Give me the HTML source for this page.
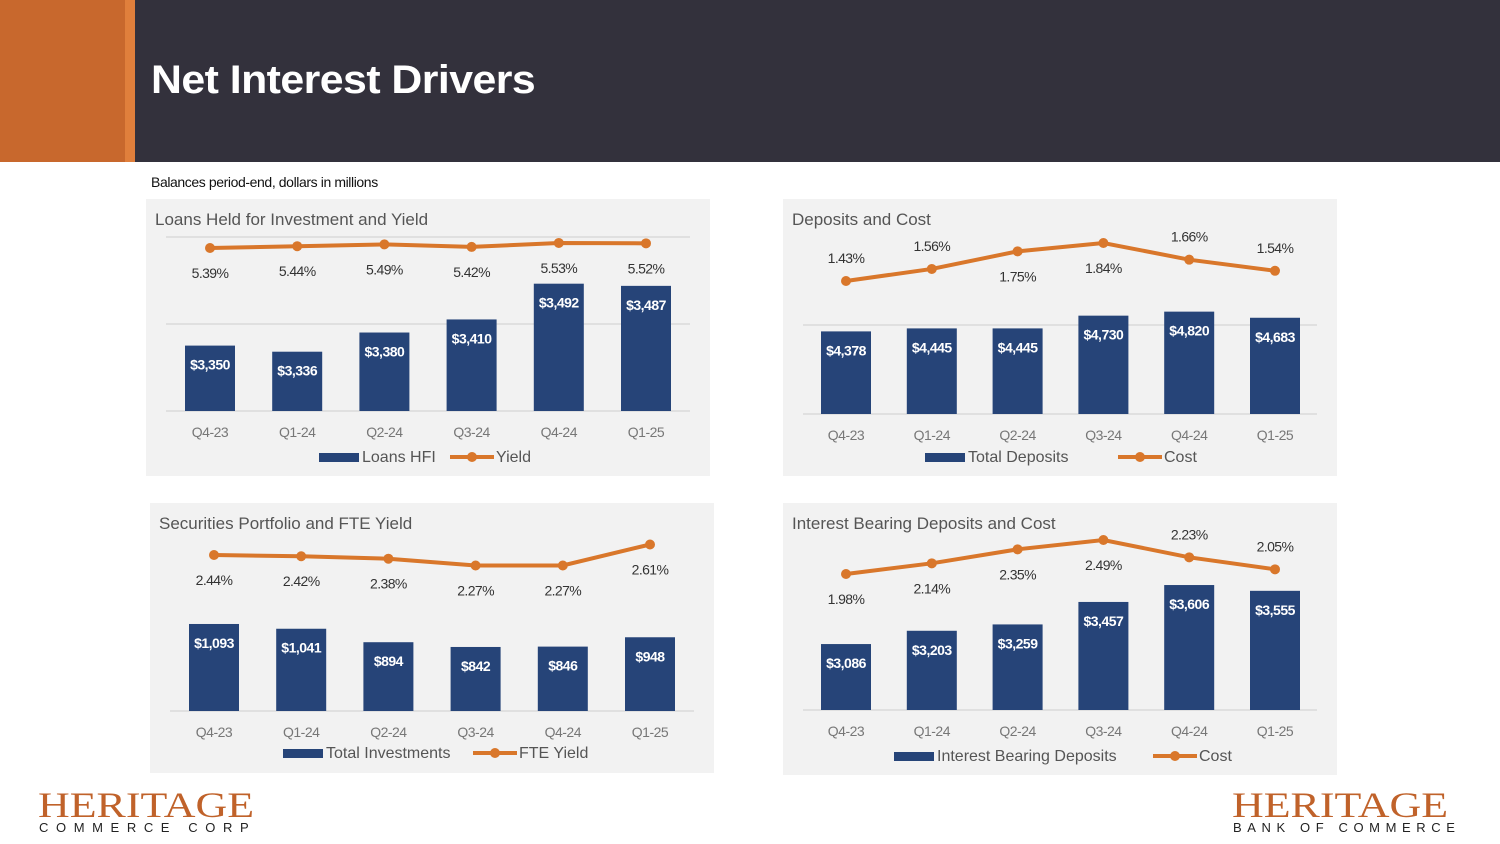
<!DOCTYPE html>
<html><head><meta charset="utf-8">
<style>
body{margin:0;width:1500px;height:844px;background:#fff;position:relative;overflow:hidden;font-family:"Liberation Sans",sans-serif}
.hdr{position:absolute;left:0;top:0;width:1500px;height:162px;background:#33313c}
.org{position:absolute;left:0;top:0;width:125px;height:162px;background:#c8682d}
.org2{position:absolute;left:125px;top:0;width:10px;height:162px;background:#e07f3c}
h1{position:absolute;left:151px;top:58px;margin:0;color:#fff;font-size:40px;font-weight:bold;letter-spacing:-0.5px;transform:scaleX(1.07);transform-origin:left top}
.sub{position:absolute;left:151px;top:174px;font-size:14px;color:#111;letter-spacing:-0.4px}
svg{position:absolute;left:0;top:0}
.logo{position:absolute;font-family:"Liberation Serif",serif;color:#c0622a;font-size:36px;line-height:30px;transform:scaleX(1.22);transform-origin:left top}
.tag{position:absolute;font-size:13px;letter-spacing:7.6px;color:#222}
</style></head><body>
<div class="hdr"></div>
<div class="org"></div>
<div class="org2"></div>
<h1>Net Interest Drivers</h1>
<div class="sub">Balances period-end, dollars in millions</div>
<svg id="chart" width="1500" height="844"></svg>
<div class="logo" style="left:38px;top:790px">HERITAGE</div>
<div class="tag" style="left:39px;top:820px">COMMERCE CORP</div>
<div class="logo" style="left:1232px;top:790px">HERITAGE</div>
<div class="tag" style="left:1233px;top:820px;letter-spacing:5.6px">BANK OF COMMERCE</div>
<script>
const quarters=["Q4-23","Q1-24","Q2-24","Q3-24","Q4-24","Q1-25"];
const loansBars=[3350,3336,3380,3410,3492,3487];
const loansYield=[5.39,5.44,5.49,5.42,5.53,5.52];
const loansLabelPos=["below","below","below","below","below","below"];
const depBars=[4378,4445,4445,4730,4820,4683];
const depCost=[1.43,1.56,1.75,1.84,1.66,1.54];
const depLabelPos=["above","above","below","below","above","above"];
const secBars=[1093,1041,894,842,846,948];
const secYield=[2.44,2.42,2.38,2.27,2.27,2.61];
const secLabelPos=["below","below","below","below","below","below"];
const ibBars=[3086,3203,3259,3457,3606,3555];
const ibCost=[1.98,2.14,2.35,2.49,2.23,2.05];
const ibLabelPos=["below","below","below","below","above","above"];

const svg=document.getElementById('chart');
const NS='http://www.w3.org/2000/svg';
function el(t,a,p){const e=document.createElementNS(NS,t);for(const k in a)e.setAttribute(k,a[k]);(p||svg).appendChild(e);return e;}
function txt(x,y,s,a,p){const e=el('text',Object.assign({x:x,y:y,'font-family':'Liberation Sans, sans-serif'},a),p);e.textContent=s;return e;}
const BLUE='#264478',ORANGE='#d9772b';

function chart(c){
  const g=el('g',{});
  
  
  const bg=el('rect',{x:c.px,y:c.py,width:c.pw,height:c.ph,fill:'#f2f2f2'},g);
  
  
  const t=txt(c.px+9,c.py+26,c.title,{'font-size':17,fill:'#555'},g);
  
  
  const yB=v=>c.base-(v-c.bMin)*c.bScale;
  const yL=v=>c.lRef-(v-c.lMin)*c.lScale;
  const xC=i=>c.x0+i*c.step;
  c.grids.forEach(gy=>{const l=el('line',{x1:c.gx1,x2:c.gx2,y1:gy,y2:gy,stroke:'#d9d9d9','stroke-width':1.5},g);
    });
  c.bars.forEach((v,i)=>{
    const top=yB(v);
    const r=el('rect',{x:xC(i)-25,y:top,width:50,height:c.base-top,fill:BLUE},g);
    
    
    const lb=txt(xC(i),top+24,'$'+v.toLocaleString('en-US'),{'font-size':14,fill:'#fff','text-anchor':'middle','font-weight':'bold','letter-spacing':'-0.5'},g);
    
    
    const q=txt(xC(i),c.base+26,quarters[i],{'font-size':14,fill:'#777','text-anchor':'middle','letter-spacing':'-0.5'},g);
    
    
  });
  const pts=c.line.map((v,i)=>xC(i)+','+yL(v)).join(' ');
  const pl=el('polyline',{points:pts,fill:'none',stroke:ORANGE,'stroke-width':4},g);
  
  
  c.line.forEach((v,i)=>{
    const d=el('circle',{cx:xC(i),cy:yL(v),r:5,fill:ORANGE},g);
    
    
    const ly=c.pos[i]=='above'?yL(v)-18:yL(v)+30;
    const lt=txt(xC(i),ly,v.toFixed(2)+'%',{'font-size':14,fill:'#333','text-anchor':'middle','letter-spacing':'-0.6'},g);
    
    
  });
  const lx=c.legX,ly=c.legY;
  const sw=el('rect',{x:lx,y:ly-9,width:40,height:9,fill:BLUE},g);
  
  
  const t1=txt(lx+43,ly,c.leg1,{'font-size':16,fill:'#555'},g);
  
  
  const x2=lx+43+c.leg1W;
  const ll=el('line',{x1:x2,x2:x2+44,y1:ly-5,y2:ly-5,stroke:ORANGE,'stroke-width':4},g);
  
  
  const lc=el('circle',{cx:x2+22,cy:ly-5,r:5,fill:ORANGE},g);
  
  
  const t2=txt(x2+46,ly,c.leg2,{'font-size':16,fill:'#555'},g);
  
  
}
chart({name:'loans-chart',px:146,py:199,pw:564,ph:277,title:'Loans Held for Investment and Yield',
  x0:210,step:87.2,base:411,bMin:3200,bScale:0.436,lRef:248,lMin:5.39,lScale:36,
  grids:[237,324,411],gx1:166,gx2:690,bars:loansBars,line:loansYield,pos:loansLabelPos,
  legX:319,legY:462,leg1:'Loans HFI',leg1W:88,leg2:'Yield'});
chart({name:'deposits-chart',px:783,py:199,pw:554,ph:277,title:'Deposits and Cost',
  x0:846,step:85.8,base:414,bMin:2530,bScale:0.0447,lRef:281,lMin:1.43,lScale:92.7,
  grids:[325,414],gx1:803,gx2:1317,bars:depBars,line:depCost,pos:depLabelPos,
  legX:925,legY:462,leg1:'Total Deposits',leg1W:150,leg2:'Cost'});
chart({name:'securities-chart',px:150,py:503,pw:564,ph:270,title:'Securities Portfolio and FTE Yield',
  x0:214,step:87.2,base:711,bMin:143,bScale:0.0916,lRef:555,lMin:2.44,lScale:61.8,
  grids:[711],gx1:170,gx2:694,bars:secBars,line:secYield,pos:secLabelPos,
  legX:283,legY:758,leg1:'Total Investments',leg1W:147,leg2:'FTE Yield'});
chart({name:'interest-bearing-chart',px:783,py:503,pw:554,ph:272,title:'Interest Bearing Deposits and Cost',
  x0:846,step:85.8,base:710,bMin:2505,bScale:0.1135,lRef:574,lMin:1.98,lScale:66.7,
  grids:[710],gx1:803,gx2:1317,bars:ibBars,line:ibCost,pos:ibLabelPos,
  legX:894,legY:761,leg1:'Interest Bearing Deposits',leg1W:216,leg2:'Cost'});
</script>
</body></html>
